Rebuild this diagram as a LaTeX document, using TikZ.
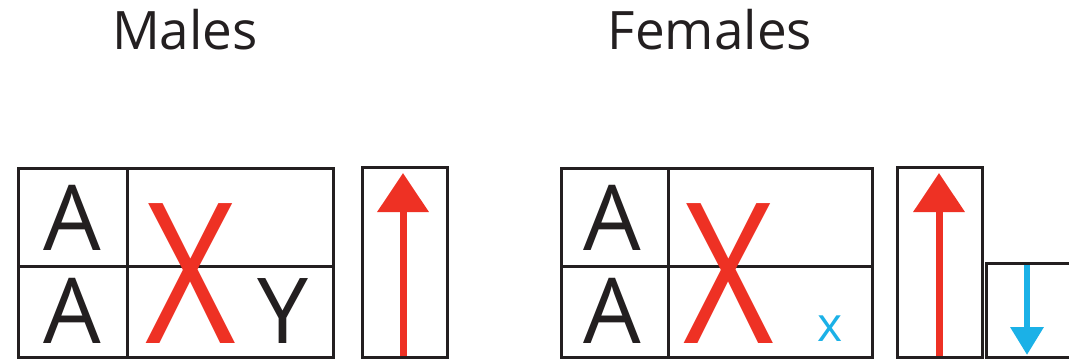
\documentclass[tikz,border=0pt]{standalone}
\usepackage{fontspec}
\setmainfont{Open Sans}
\usetikzlibrary{arrows.meta}
\definecolor{ink}{HTML}{231F20}
\definecolor{xred}{HTML}{EE3124}
\definecolor{xblue}{HTML}{1BB1E7}
\tikzset{
  box/.style={draw=ink, line width=3pt},
  title/.style={anchor=base, text=ink, font=\fontsize{53}{60}\selectfont, inner sep=0pt},
  bigA/.style={anchor=base, text=ink, font=\fontsize{91}{100}\selectfont, inner sep=0pt},
  bigX/.style={anchor=base, text=xred, font=\fontsize{196}{200}\selectfont, inner sep=0pt},
  smallx/.style={anchor=base, text=xblue, font=\fontsize{48}{50}\selectfont, inner sep=0pt},
  uparrow/.style={draw=xred, line width=7pt, -{Triangle[length=39pt,width=50pt]}},
  downarrow/.style={draw=xblue, line width=6.5pt, -{Triangle[length=28pt,width=32pt]}},
}
\begin{document}
\begin{tikzpicture}[x=1pt,y=-1pt]
\useasboundingbox[fill=white] (0,0) rectangle (1069,361);
% titles
\node[title] (tm) at (185,50) {Males};
\node[title] (tf) at (710,50) {Females};
% male grid
\draw[box] (18,168) rectangle (333,357);
\draw[box] (18,266) -- (333,266);
\draw[box] (127,168) -- (127,357);
\node[bigA] (ma1) at (72,250) {A};
\node[bigA] (ma2) at (72,343) {A};
\node[bigX] (mx) at (191,343) {\scalebox{0.8}[1]{X}};
\node[bigA] (my) at (283,343) {Y};
% male arrow box
\draw[box] (362,167) rectangle (447,357);
\coordinate (mus) at (403,356);
\coordinate (mut) at (403,173);
\draw[uparrow] (mus) -- (mut);
% female grid
\draw[box] (561,168) rectangle (872,357);
\draw[box] (561,266) -- (872,266);
\draw[box] (668,168) -- (668,357);
\node[bigA] (fa1) at (612,250) {A};
\node[bigA] (fa2) at (612,343) {A};
\node[bigX] (fx) at (729,343) {\scalebox{0.8}[1]{X}};
\node[smallx] (fsx) at (830,341) {x};
% female arrow boxes
\draw[box] (897,167) rectangle (982,357);
\coordinate (fus) at (939,356);
\coordinate (fut) at (939,173);
\draw[uparrow] (fus) -- (fut);
\draw[box] (986,263) rectangle (1080,357);
\coordinate (fds) at (1027,265);
\coordinate (fdt) at (1027,355);
\draw[downarrow] (fds) -- (fdt);
\end{tikzpicture}
\end{document}
